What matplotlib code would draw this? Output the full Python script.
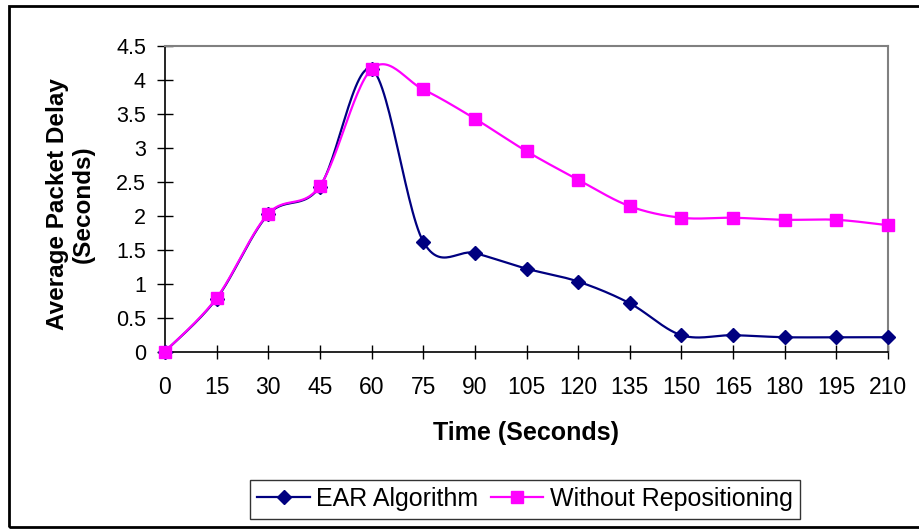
import numpy as np
import matplotlib
matplotlib.use("Agg")
import matplotlib.pyplot as plt
from matplotlib.patches import Rectangle
from matplotlib.lines import Line2D

plt.rcParams["font.family"] = ["Liberation Sans", "DejaVu Sans"]

time_s = [0, 15, 30, 45, 60, 75, 90, 105, 120, 135, 150, 165, 180, 195, 210]
ear_delay = [0, 0.78, 2.02, 2.43, 4.16, 1.62, 1.45, 1.22, 1.03, 0.71, 0.24, 0.24, 0.21, 0.21, 0.21]
norepos_delay = [0, 0.79, 2.03, 2.44, 4.16, 3.86, 3.43, 2.95, 2.53, 2.14, 1.97, 1.97, 1.94, 1.94, 1.86]

NAVY, MAGENTA = "#000080", "#ff00ff"


def smooth(x, y, n=30):
    # cubic bezier through the points, control handles from neighbours (1/6 tension)
    P = np.column_stack([x, y]).astype(float)
    P = np.vstack([P[0], P, P[-1]])
    out = []
    for i in range(1, len(P) - 2):
        p0, p1, p2, p3 = P[i - 1], P[i], P[i + 1], P[i + 2]
        c1 = p1 + (p2 - p0) / 6.0
        c2 = p2 - (p3 - p1) / 6.0
        t = np.linspace(0, 1, n)[:, None]
        seg = ((1 - t) ** 3) * p1 + 3 * ((1 - t) ** 2) * t * c1 + 3 * (1 - t) * t ** 2 * c2 + t ** 3 * p2
        out.append(seg if i == 1 else seg[1:])
    s = np.vstack(out)
    return s[:, 0], s[:, 1]


fig = plt.figure(figsize=(9.2, 5.29), dpi=100)
W, H = 920, 529
ax = fig.add_axes([165 / W, 1 - 351.5 / H, (888 - 165) / W, (351.5 - 46) / H])

for ys, col, mk, ms in [(ear_delay, NAVY, "D", 7), (norepos_delay, MAGENTA, "s", 8)]:
    sx, sy = smooth(time_s, ys)
    ax.plot(sx, sy, color=col, lw=1.6, solid_joinstyle="round", clip_on=False, zorder=3)
    ax.plot(time_s, ys, ls="none", marker=mk, ms=ms, color=col, mec=col, clip_on=False, zorder=4)

ax.set_xlim(0, 210)
ax.set_ylim(0, 4.5)
ax.set_xticks(time_s)
ax.set_yticks(np.arange(0, 4.51, 0.5))
ax.set_yticklabels(["0", "0.5", "1", "1.5", "2", "2.5", "3", "3.5", "4", "4.5"])
ax.tick_params(axis="y", direction="inout", length=11.5, width=1, labelsize=15.5, pad=8)
ax.tick_params(axis="x", direction="inout", length=10, width=1, labelsize=16.5, pad=13)
for side in ("left", "bottom"):
    ax.spines[side].set_color("black")
    ax.spines[side].set_linewidth(1.2)
for side in ("top", "right"):
    ax.spines[side].set_color("#808080")
    ax.spines[side].set_linewidth(1.5)

fig.text(526 / W, 1 - 433 / H, "Time (Seconds)", fontsize=18, fontweight="bold",
         ha="center", va="center")
fig.text(70 / W, 1 - 204 / H, "Average Packet Delay\n(Seconds)", fontsize=17.5,
         fontweight="bold", ha="center", va="center", rotation=90, linespacing=1.15)

handles = [
    Line2D([], [], color=NAVY, lw=1.6, marker="D", ms=7, mec=NAVY),
    Line2D([], [], color=MAGENTA, lw=1.6, marker="s", ms=8, mec=MAGENTA),
]
leg = fig.legend(handles, ["EAR Algorithm", "Without Repositioning"], ncol=2,
                 loc="center", bbox_to_anchor=(525 / W, 1 - 499 / H), fontsize=18,
                 frameon=True, fancybox=False, edgecolor="black", handlelength=2.1,
                 handletextpad=0.25, columnspacing=0.5, borderpad=0.3, borderaxespad=0)
leg.get_frame().set_linewidth(1.0)

# chart border
fig.add_artist(Rectangle((9.5 / W, 1 - 527 / H), (930 - 9.5) / W, (527 - 6) / H,
                         transform=fig.transFigure, fill=False, edgecolor="black", lw=2))

fig.savefig("out.png", dpi=100)
